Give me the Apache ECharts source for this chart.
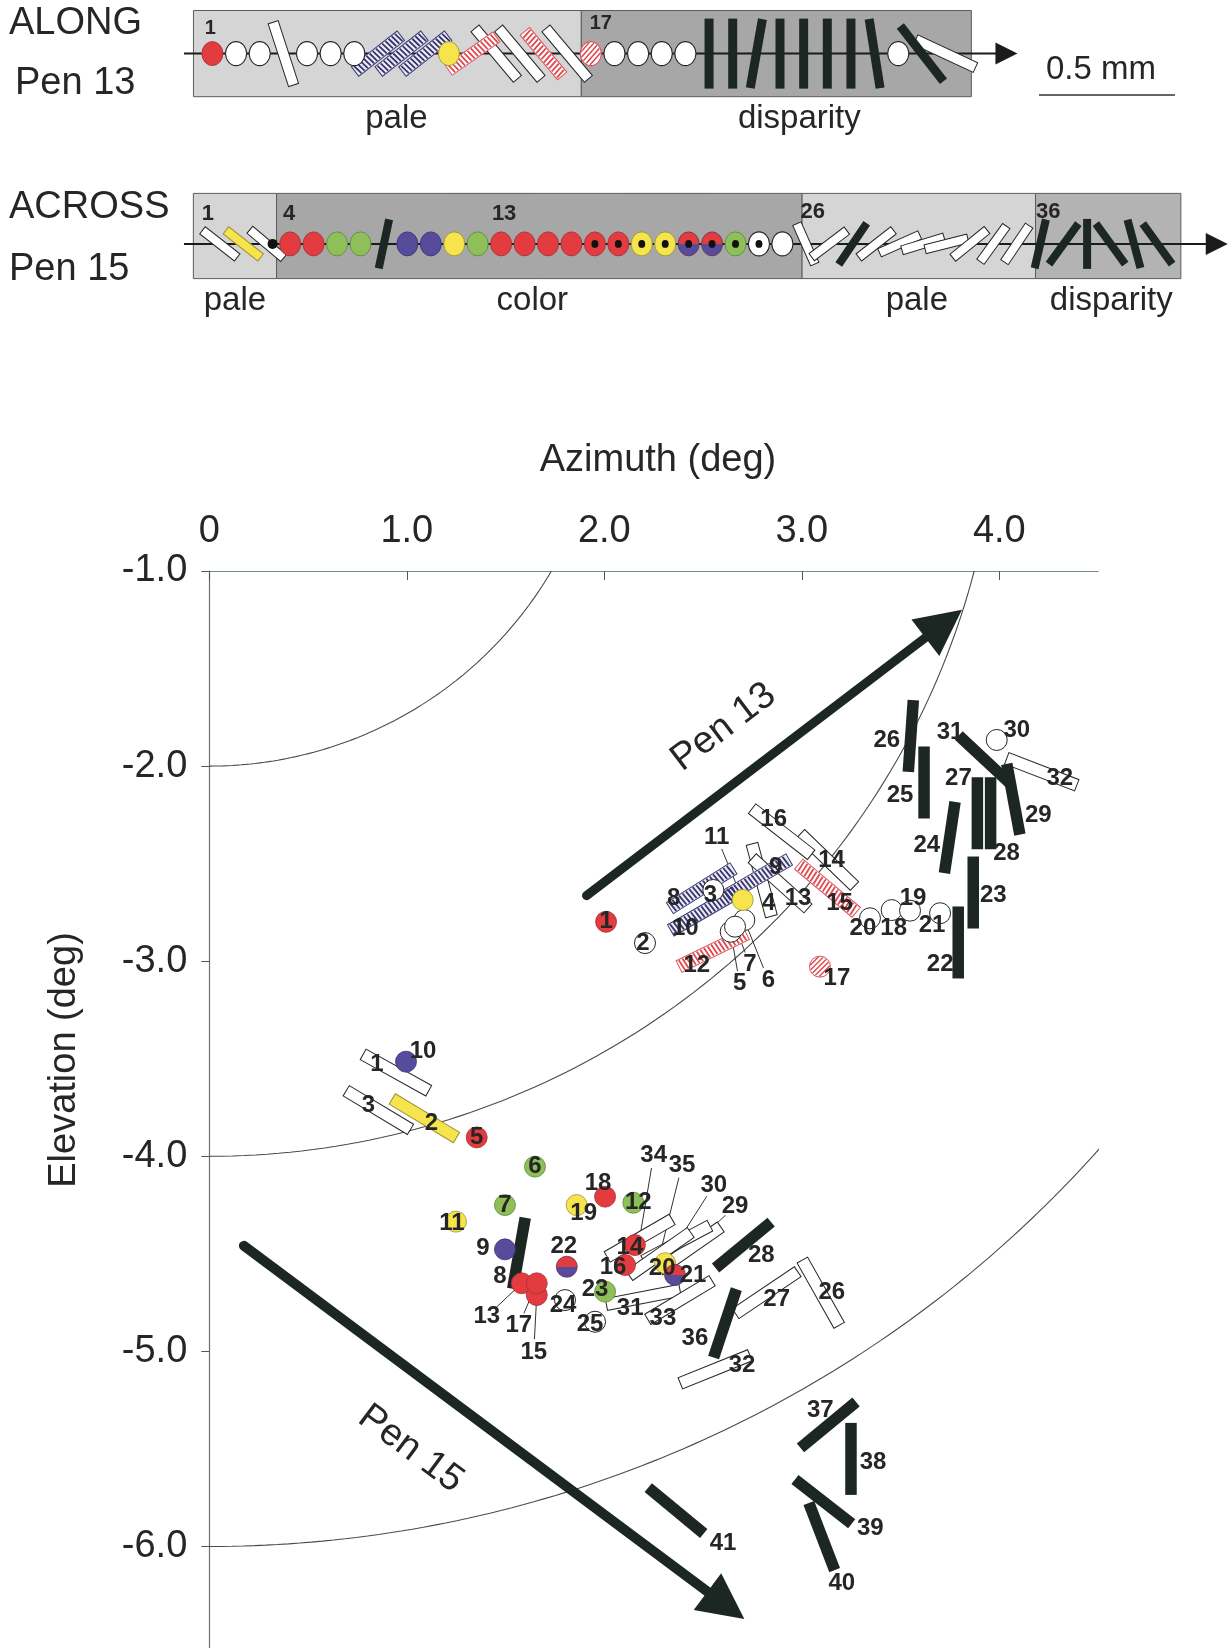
<!DOCTYPE html>
<html>
<head>
<meta charset="utf-8">
<script src="https://cdn.jsdelivr.net/npm/echarts@6/dist/echarts.min.js"></script>
<style>
  html, body { margin: 0; padding: 0; background: #ffffff; }
  #chart { width: 1230px; height: 1648px; }
</style>
</head>
<body>
<div id="chart"></div>
<script>
// ---------------- Pen 13 recording sites (visual-field position, deg) ----------------
const pen13Id = [1,2,3,4,5,6,7,8,9,10,11,12,13,14,15,16,17,18,19,20,21,22,23,24,25,26,27,28,29,30,31,32];
const pen13Az = [2.009,2.206,2.552,2.797,2.640,2.709,2.662,2.493,2.772,2.501,2.701,2.549,2.890,3.130,3.130,2.898,3.092,3.455,3.548,3.345,3.700,3.792,3.868,3.749,3.619,3.552,3.889,3.956,4.071,3.987,3.928,4.215];
const pen13El = [-2.798,-2.907,-2.635,-2.584,-2.849,-2.789,-2.823,-2.626,-2.575,-2.746,-2.686,-2.943,-2.601,-2.481,-2.626,-2.336,-3.028,-2.738,-2.741,-2.780,-2.754,-2.904,-2.648,-2.366,-2.084,-1.846,-2.242,-2.242,-2.170,-1.866,-1.969,-2.029];
const pen13Shape = ['dot','dot','dot','bar','dot','dot','dot','bar','bar','bar','dot','bar','bar','bar','bar','bar','dot','dot','dot','dot','dot','bar','bar','bar','bar','bar','bar','bar','bar','dot','bar','bar'];
const pen13Fill = ['red','open','open','open','open','open','open','hatchBlue','hatchBlue','hatchBlue','yellow','hatchRed','open','open','hatchRed','open','hatchRed','open','open','open','open','black','black','black','black','black','black','black','black','open','black','open'];
// preferred orientation (deg, counter-clockwise from horizontal)
const pen13Angle = [null,null,null,105,null,null,null,32,30,30,null,26,-42,-44,-40,-38,null,null,null,null,null,90,90,81.5,90,86,90,90,100.5,null,-43,-21];
const pen13StripAngle = [null,null,null,108,null,null,null,38,38,38,null,35,-50,-50,-50,-50,null,null,null,null,null,90,90,80,90,90,90,90,99,null,-52,-25];

// ---------------- Pen 15 recording sites ----------------
const pen15Id = [1,2,3,5,6,7,8,9,10,11,12,13,14,15,16,17,18,19,20,21,22,23,24,25,26,27,28,29,30,31,32,33,34,35,36,37,38,39,40,41];
const pen15Az = [0.945,1.089,0.856,1.354,1.649,1.497,1.568,1.497,0.996,1.249,2.147,1.582,2.155,1.658,2.105,1.658,2.004,1.860,2.308,2.358,1.810,2.004,1.801,1.953,3.096,2.822,2.704,2.434,2.367,2.197,2.561,2.383,2.179,2.282,2.611,3.134,3.249,3.109,3.101,2.363];
const pen15El = [-3.571,-3.805,-3.763,-3.903,-4.053,-4.250,-4.497,-4.477,-3.515,-4.335,-4.238,-4.651,-4.455,-4.711,-4.557,-4.651,-4.207,-4.250,-4.548,-4.608,-4.566,-4.694,-4.737,-4.848,-4.699,-4.699,-4.455,-4.472,-4.446,-4.723,-5.092,-4.737,-4.420,-4.501,-4.856,-5.377,-5.551,-5.770,-5.949,-5.816];
const pen15Shape = ['bar','bar','bar','dot','dot','dot','bar','dot','dot','dot','dot','dot','dot','dot','dot','dot','dot','dot','dot','dot','dot','dot','dot','dot','bar','bar','bar','bar','bar','bar','bar','bar','bar','bar','bar','bar','bar','bar','bar','bar'];
const pen15Fill = ['open','yellow','open','red','green','green','black','purple','purple','yellow','green','red','red','red','red','red','red','yellow','yellow','split','split','green','open','open','open','open','black','open','open','open','open','open','open','open','black','black','black','black','black','black'];
const pen15Angle = [-29,-31,-31,null,null,null,80,null,null,null,null,null,null,null,null,null,null,null,null,null,null,null,null,null,-60.6,34,39.5,35,28,11,22,31,30,35,71.6,39.5,90,-38,111,-39.6];

// ---------------- ACROSS (Pen 15) strip, in penetration order ----------------
const acrossId = [1,2,3,4,5,6,7,8,9,10,11,12,13,14,15,16,17,18,19,20,21,22,23,24,25,26,27,28,29,30,31,32,33,34,35,36,37,38,39,40,41];
const acrossShape = ['bar','bar','bar','dot','dot','dot','dot','bar','dot','dot','dot','dot','dot','dot','dot','dot','dot','dot','dot','dot','dot','dot','dot','dot','dot','bar','bar','bar','bar','bar','bar','bar','bar','bar','bar','bar','bar','bar','bar','bar','bar'];
const acrossFill = ['open','yellow','open','red','red','green','green','black','purple','purple','yellow','green','red','red','red','red','red','red','yellow','yellow','split','split','green','open','open','open','open','black','open','open','open','open','open','open','open','black','black','black','black','black','black'];
const acrossAngle = [-38,-38,-40,null,null,null,null,78,null,null,null,null,null,null,null,null,null,null,null,null,null,null,null,null,null,-66,37,56,38,24,17,14,39,54,56,77,54,90,-54,-75,-54];
const acrossCentered = [17,18,19,20,21,22,23,24];
const acrossSmallDots = [3.25];

// strip sections (positions in site-index units)
const alongSegStart = [0.2, 16.6];
const alongSegEnd = [16.6, 33.09];
const alongSegName = ['pale', 'disparity'];
const alongSegTone = ['light', 'dark'];
const acrossSegStart = [-0.13, 3.42, 25.84, 35.8];
const acrossSegEnd = [3.42, 25.84, 35.8, 42.0];
const acrossSegName = ['pale', 'color', 'pale', 'disparity'];
const acrossSegTone = ['light', 'dark', 'light', 'mid'];
const alongNumbered = [1, 17];
const acrossNumbered = [1, 4, 13, 26, 36];
const alongTrackSpan = [-0.2, 35.04];
const acrossTrackSpan = [-0.53, 44.0];

// penetration direction arrows in the visual field
const penNames = ['Pen 13', 'Pen 15'];
const penArrowStart = [[1.910, -2.664], [0.175, -4.459]];
const penArrowEnd = [[3.811, -1.199], [2.709, -6.372]];

// iso-eccentricity rings (deg)
const eccentricityRadii = [2, 4, 6];

// axis ticks
const azimuthTicks = [0, 1, 2, 3, 4];

// ---------------- layout / style ----------------
const FONT = '"Liberation Sans", Arial, Helvetica, sans-serif';
const INK = '#262626';
const COLORS = { red: '#e23c40', yellow: '#f5e44b', green: '#8ebf58', purple: '#574c9c', black: '#1c2622' };
const EDGE = { red: '#a83034', yellow: '#9d9233', green: '#5d8a3a', purple: '#3a3271' };
const TONES = { light: '#d5d5d5', dark: '#a7a7a7', mid: '#b3b3b3' };

const pen13LabelOffset = [[0,0],[-2,0],[-3,5],[7,23],[9,52],[24,60],[15,38],[-28,10],[19,-11],[-18,17],[-26,-63],[-16,15],[18,15],[4,0],[12,15],[-8,-12],[17,12],[2,18],[3,-12],[-7,10],[-8,12],[-18,22],[20,3],[-23,8],[-24,13],[-24,4],[-19,-35],[16,40],[25,16],[20,-10],[-35,-28],[18,7]];
const pen13Leader = [5, 6, 7, 11];
const pen15LabelOffset = [[-19,-8],[7,5],[-10,-5],[0,0],[0,0],[0,0],[-19,23],[-22,-1],[17,-10],[-4,2],[5,0],[-35,33],[-5,2],[-3,57],[-12,2],[-18,42],[-7,-13],[7,8],[-3,5],[18,0],[-3,-20],[-10,-2],[-2,5],[-5,3],[11,0],[10,7],[18,10],[45,-42],[37,-58],[-13,11],[27,-4],[-17,18],[14,-83],[22,-89],[-30,15],[-8,-15],[22,3],[47,27],[20,47],[47,33]];
const pen15Leader = [13, 15, 17, 29, 30, 34, 35];
const alongNumberShift = [[-2,-25],[10,-30]];
const acrossNumberShift = [[-12,-30],[-1,-30],[3,-30],[7,-32],[8,-32]];
const alongSegNameShift = [9, 23];
const acrossSegNameShift = [0, -7, -2, 3];
const alongLevel = 0;
const acrossLevel = -0.185;
const penArrowWidth = [9, 10];
const penLabelAlong = [-25, -57];
const penLabelSide = [51, -63];

const fieldDims = { rx: 10.5, ry: 10.5, barLen: 75, hatchLen: 75, blackLen: 72, barWid: 12, hatchWid: 13, blackWid: 11.5 };
const alongDims = { rx: 10.5, ry: 12, barLen: 66, hatchLen: 58, blackLen: 70, barWid: 10.5, hatchWid: 12, blackWid: 9 };
const acrossDims = { rx: 10.5, ry: 12, barLen: 44, hatchLen: 44, blackLen: 50, barWid: 9, hatchWid: 10, blackWid: 8 };

// ---------------- mark drawing helpers ----------------
function barElements(fill, angleDeg, x, y, d) {
  const hatched = fill === 'hatchBlue' || fill === 'hatchRed';
  const len = fill === 'black' ? d.blackLen : (hatched ? d.hatchLen : d.barLen);
  const wid = fill === 'black' ? d.blackWid : (hatched ? d.hatchWid : d.barWid);
  let style, z2;
  if (fill === 'black') { style = { fill: COLORS.black }; z2 = 14; }
  else if (fill === 'yellow') { style = { fill: COLORS.yellow, stroke: EDGE.yellow, lineWidth: 1 }; z2 = 11; }
  else if (fill === 'hatchBlue') { style = { fill: '#ecebf5', stroke: '#3b3873', lineWidth: 1 }; z2 = 12; }
  else if (fill === 'hatchRed') { style = { fill: '#ffffff', stroke: '#d9555a', lineWidth: 1 }; z2 = 12; }
  else { style = { fill: '#ffffff', stroke: '#262626', lineWidth: 1 }; z2 = 10; }
  const children = [{ type: 'rect', shape: { x: -len / 2, y: -wid / 2, width: len, height: wid }, style: style, z2: z2 }];
  if (hatched) {
    const stripe = fill === 'hatchBlue' ? '#36336c' : '#e0474c';
    for (let s = -len / 2 + 2.5; s < len / 2 - 2; s += 4) {
      children.push({ type: 'line', shape: { x1: s, y1: -wid / 2 + 0.8, x2: s + 1.5, y2: wid / 2 - 0.8 },
        style: { stroke: stripe, lineWidth: 1.8 }, z2: z2 + 1 });
    }
  }
  return { type: 'group', x: x, y: y, rotation: angleDeg * Math.PI / 180, children: children };
}

function dotElements(fill, x, y, d, centerDot) {
  const r = d.rx;
  let style;
  if (fill === 'open') style = { fill: '#ffffff', stroke: '#262626', lineWidth: 1 };
  else if (fill === 'hatchRed') style = { fill: '#ffffff', stroke: '#d9555a', lineWidth: 1 };
  else if (fill === 'split') style = {
    fill: { type: 'linear', x: 0, y: 0, x2: 0, y2: 1, colorStops: [
      { offset: 0, color: COLORS.red }, { offset: 0.5, color: COLORS.red },
      { offset: 0.5, color: COLORS.purple }, { offset: 1, color: COLORS.purple }] },
    stroke: '#6a3050', lineWidth: 0.8 };
  else style = { fill: COLORS[fill], stroke: EDGE[fill], lineWidth: 0.8 };
  const children = [{ type: 'circle', shape: { cx: 0, cy: 0, r: r }, style: style, z2: 20 }];
  if (fill === 'hatchRed') {
    const s2 = Math.SQRT1_2;
    for (let k = -r + 2.5; k < r - 1; k += 3.6) {
      const h = Math.sqrt(r * r - k * k) - 0.8;
      const cx = k * s2, cy = k * s2;
      children.push({ type: 'line', shape: { x1: cx - h * s2, y1: cy + h * s2, x2: cx + h * s2, y2: cy - h * s2 },
        style: { stroke: '#e0474c', lineWidth: 1.4 }, z2: 21 });
    }
  }
  if (centerDot) {
    children.push({ type: 'circle', shape: { cx: 0, cy: 0, r: r * 0.33 }, style: { fill: '#111111' }, z2: 22 });
  }
  return { type: 'group', x: x, y: y, scaleY: d.ry / d.rx, children: children };
}

// one custom layer of recording sites on a given coordinate system
function siteLayer(cfg) {
  return {
    type: 'custom', xAxisIndex: cfg.xi, yAxisIndex: cfg.yi, clip: false, silent: true, z: 5,
    data: cfg.pos,
    renderItem: function (params, api) {
      const i = params.dataIndex;
      const p = api.coord([api.value(0), api.value(1)]);
      const children = [];
      if (cfg.shape[i] === 'bar') children.push(barElements(cfg.fill[i], cfg.angle[i], p[0], p[1], cfg.dims));
      else children.push(dotElements(cfg.fill[i], p[0], p[1], cfg.dims, cfg.centered && cfg.centered[i]));
      const lab = cfg.labels[i];
      if (lab != null) {
        const off = cfg.offsets[i] || [0, 0];
        const lx = p[0] + off[0], ly = p[1] + off[1];
        children.push({ type: 'text', x: lx, y: ly, z2: 30,
          style: { text: String(lab), fill: INK, fontSize: cfg.fontSize, fontWeight: 'bold', fontFamily: FONT,
            align: 'center', verticalAlign: 'middle' } });
        if (cfg.leader && cfg.leader[i]) {
          const dx = p[0] - lx, dy = p[1] - ly, L = Math.hypot(dx, dy) || 1;
          children.push({ type: 'line', z2: 4,
            shape: { x1: lx + dx / L * 13, y1: ly + dy / L * 13, x2: p[0], y2: p[1] },
            style: { stroke: '#333333', lineWidth: 1 } });
        }
      }
      return { type: 'group', children: children };
    }
  };
}

// shaded sections of a strip
function stripBand(xi, yi, starts, ends, tones, names, shifts) {
  return {
    type: 'custom', xAxisIndex: xi, yAxisIndex: yi, clip: false, silent: true, z: 1,
    data: starts.map(function (s, i) { return [s, ends[i]]; }),
    renderItem: function (params, api) {
      const i = params.dataIndex;
      const a = api.coord([api.value(0), 1]);
      const b = api.coord([api.value(1), -1]);
      return { type: 'group', children: [
        { type: 'rect', shape: { x: a[0], y: a[1], width: b[0] - a[0], height: b[1] - a[1] },
          style: { fill: TONES[tones[i]], stroke: '#5c5c5c', lineWidth: 1 } },
        { type: 'text', x: (a[0] + b[0]) / 2 + shifts[i], y: b[1] + 22,
          style: { text: names[i], fill: INK, fontSize: 33, fontFamily: FONT, align: 'center', verticalAlign: 'middle' } }
      ] };
    }
  };
}

// penetration track line with arrowhead inside a strip
function stripTrack(xi, yi, span, level) {
  return {
    type: 'custom', xAxisIndex: xi, yAxisIndex: yi, clip: false, silent: true, z: 3,
    data: [[span[0], span[1], level]],
    renderItem: function (params, api) {
      const a = api.coord([api.value(0), api.value(2)]);
      const b = api.coord([api.value(1), api.value(2)]);
      const hl = 22, hw = 11;
      return { type: 'group', children: [
        { type: 'line', shape: { x1: a[0], y1: a[1], x2: b[0] - hl + 2, y2: b[1] }, style: { stroke: '#1b1b1b', lineWidth: 2 } },
        { type: 'polygon', shape: { points: [[b[0], b[1]], [b[0] - hl, b[1] - hw], [b[0] - hl, b[1] + hw]] }, style: { fill: '#1b1b1b' } }
      ] };
    }
  };
}

function smallDotLayer(xi, yi, positions, level) {
  return {
    type: 'custom', xAxisIndex: xi, yAxisIndex: yi, clip: false, silent: true, z: 6,
    data: positions.map(function (v) { return [v, level]; }),
    renderItem: function (params, api) {
      const p = api.coord([api.value(0), api.value(1)]);
      return { type: 'circle', shape: { cx: p[0], cy: p[1], r: 5 }, style: { fill: '#111111' }, z2: 25 };
    }
  };
}

function ringPath(r) {
  const tEnd = Math.min(-Math.asin(Math.min(1, 1 / r)), -Math.acos(Math.min(1, 4.55 / r)));
  const pts = [];
  const n = 90;
  for (let k = 0; k <= n; k++) {
    const t = -Math.PI / 2 + (tEnd + Math.PI / 2) * k / n;
    pts.push([r * Math.cos(t), r * Math.sin(t)]);
  }
  return pts;
}

function labelsFor(ids, numbered) {
  return ids.map(function (id) { return numbered.indexOf(id) >= 0 ? id : null; });
}
function shiftsFor(ids, numbered, shifts) {
  return ids.map(function (id) { const k = numbered.indexOf(id); return k >= 0 ? shifts[k] : null; });
}

const series = [];

// eccentricity rings
eccentricityRadii.forEach(function (r) {
  series.push({ type: 'line', xAxisIndex: 0, yAxisIndex: 0, data: ringPath(r), showSymbol: false, symbol: 'none',
    clip: false, silent: true, z: 2, lineStyle: { color: '#4a4a4a', width: 1.1 } });
});

// penetration arrows
series.push({
  type: 'custom', xAxisIndex: 0, yAxisIndex: 0, clip: false, silent: true, z: 3,
  data: penArrowStart.map(function (s, i) { return [s[0], s[1], penArrowEnd[i][0], penArrowEnd[i][1]]; }),
  renderItem: function (params, api) {
    const i = params.dataIndex;
    const p0 = api.coord([api.value(0), api.value(1)]);
    const p1 = api.coord([api.value(2), api.value(3)]);
    const dx = p1[0] - p0[0], dy = p1[1] - p0[1], L = Math.hypot(dx, dy);
    const ux = dx / L, uy = dy / L, nx = uy, ny = -ux;
    const hl = 46, hw = 23;
    const bx = p1[0] - ux * hl, by = p1[1] - uy * hl;
    const mx = (p0[0] + p1[0]) / 2, my = (p0[1] + p1[1]) / 2;
    const tx = mx + ux * penLabelAlong[i] + nx * penLabelSide[i];
    const ty = my + uy * penLabelAlong[i] + ny * penLabelSide[i];
    return { type: 'group', children: [
      { type: 'line', shape: { x1: p0[0], y1: p0[1], x2: bx + ux * 4, y2: by + uy * 4 },
        style: { stroke: COLORS.black, lineWidth: penArrowWidth[i], lineCap: 'round' } },
      { type: 'polygon', shape: { points: [[p1[0], p1[1]], [bx + nx * hw, by + ny * hw], [bx - nx * hw, by - ny * hw]] },
        style: { fill: COLORS.black } },
      { type: 'text', x: tx, y: ty, rotation: -Math.atan2(dy, dx),
        style: { text: penNames[i], fill: INK, fontSize: 38, fontFamily: FONT, align: 'center', verticalAlign: 'middle' } }
    ] };
  }
});

// recording sites in the visual field
series.push(siteLayer({
  xi: 0, yi: 0, dims: fieldDims, fontSize: 24,
  pos: pen13Az.map(function (a, i) { return [a, pen13El[i]]; }),
  shape: pen13Shape, fill: pen13Fill, angle: pen13Angle,
  labels: pen13Id, offsets: pen13LabelOffset,
  leader: pen13Id.map(function (id) { return pen13Leader.indexOf(id) >= 0; })
}));
series.push(siteLayer({
  xi: 0, yi: 0, dims: fieldDims, fontSize: 24,
  pos: pen15Az.map(function (a, i) { return [a, pen15El[i]]; }),
  shape: pen15Shape, fill: pen15Fill, angle: pen15Angle,
  labels: pen15Id, offsets: pen15LabelOffset,
  leader: pen15Id.map(function (id) { return pen15Leader.indexOf(id) >= 0; })
}));

// ALONG strip (Pen 13)
series.push(stripBand(1, 1, alongSegStart, alongSegEnd, alongSegTone, alongSegName, alongSegNameShift));
series.push(stripTrack(1, 1, alongTrackSpan, alongLevel));
series.push(siteLayer({
  xi: 1, yi: 1, dims: alongDims, fontSize: 20,
  pos: pen13Id.map(function (id) { return [id, alongLevel]; }),
  shape: pen13Shape, fill: pen13Fill, angle: pen13StripAngle,
  labels: labelsFor(pen13Id, alongNumbered), offsets: shiftsFor(pen13Id, alongNumbered, alongNumberShift)
}));

// ACROSS strip (Pen 15)
series.push(stripBand(2, 2, acrossSegStart, acrossSegEnd, acrossSegTone, acrossSegName, acrossSegNameShift));
series.push(stripTrack(2, 2, acrossTrackSpan, acrossLevel));
series.push(siteLayer({
  xi: 2, yi: 2, dims: acrossDims, fontSize: 22,
  pos: acrossId.map(function (id) { return [id, acrossLevel]; }),
  shape: acrossShape, fill: acrossFill, angle: acrossAngle,
  centered: acrossId.map(function (id) { return acrossCentered.indexOf(id) >= 0; }),
  labels: labelsFor(acrossId, acrossNumbered), offsets: shiftsFor(acrossId, acrossNumbered, acrossNumberShift)
}));
series.push(smallDotLayer(2, 2, acrossSmallDots, acrossLevel));

const textStyle = { fill: INK, fontSize: 38, fontFamily: FONT };

const option = {
  animation: false,
  backgroundColor: '#ffffff',
  grid: [
    { left: 209.3, top: 571, width: 888.75, height: 1170.6, outerBoundsMode: 'none', containLabel: false },
    { left: 165.1, top: 10.5, width: 875.05, height: 86.2, outerBoundsMode: 'none', containLabel: false },
    { left: 172.96, top: 193.4, width: 1054.8, height: 85.2, outerBoundsMode: 'none', containLabel: false }
  ],
  xAxis: [
    { gridIndex: 0, type: 'value', position: 'top', min: 0, max: 4.5, interval: 1,
      axisLine: { show: true, onZero: false, lineStyle: { color: '#6f8e8c', width: 1.2 } },
      axisTick: { show: true, inside: true, length: 9, customValues: azimuthTicks, lineStyle: { color: '#555555', width: 1 } },
      axisLabel: { show: true, margin: 20, color: INK, fontSize: 38, fontFamily: FONT,
        customValues: azimuthTicks,
        formatter: function (v) { return v === 0 ? '0' : v.toFixed(1); } },
      splitLine: { show: false } },
    { gridIndex: 1, type: 'value', min: -1, max: 36, show: false },
    { gridIndex: 2, type: 'value', min: -1, max: 44, show: false }
  ],
  yAxis: [
    { gridIndex: 0, type: 'value', min: -7, max: -1, interval: 1,
      axisLine: { show: true, onZero: false, lineStyle: { color: '#6c6f78', width: 1.2 } },
      axisTick: { show: true, inside: false, length: 8, lineStyle: { color: '#555555', width: 1 } },
      axisLabel: { show: true, margin: 22, color: INK, fontSize: 38, fontFamily: FONT,
        formatter: function (v) { return v.toFixed(1); } },
      splitLine: { show: false } },
    { gridIndex: 1, type: 'value', min: -1, max: 1, show: false },
    { gridIndex: 2, type: 'value', min: -1, max: 1, show: false }
  ],
  graphic: [
    { type: 'text', x: 9, y: 24, style: Object.assign({ text: 'ALONG', verticalAlign: 'middle' }, textStyle) },
    { type: 'text', x: 15, y: 84, style: Object.assign({ text: 'Pen 13', verticalAlign: 'middle' }, textStyle) },
    { type: 'text', x: 9, y: 208, style: Object.assign({ text: 'ACROSS', verticalAlign: 'middle' }, textStyle) },
    { type: 'text', x: 9, y: 270, style: Object.assign({ text: 'Pen 15', verticalAlign: 'middle' }, textStyle) },
    { type: 'line', shape: { x1: 1039, y1: 95, x2: 1175, y2: 95 }, style: { stroke: '#333333', lineWidth: 1.5 } },
    { type: 'text', x: 1101, y: 70, style: { text: '0.5 mm', fill: INK, fontSize: 33, fontFamily: FONT, align: 'center', verticalAlign: 'middle' } },
    { type: 'text', x: 658, y: 461, style: Object.assign({ text: 'Azimuth (deg)', align: 'center', verticalAlign: 'middle' }, textStyle) },
    { type: 'text', x: 65, y: 1060, rotation: Math.PI / 2,
      style: Object.assign({ text: 'Elevation (deg)', align: 'center', verticalAlign: 'middle' }, textStyle) }
  ],
  series: series
};

const chart = echarts.init(document.getElementById('chart'), null, { renderer: 'canvas' });
chart.setOption(option);
</script>
</body>
</html>
